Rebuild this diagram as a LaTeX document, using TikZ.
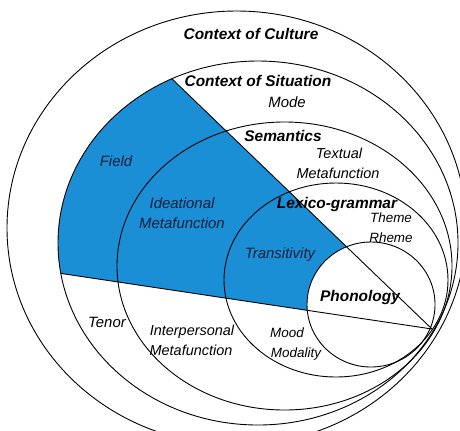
\documentclass[tikz,border=0pt]{standalone}
\usepackage{fontspec}
\setmainfont{Liberation Sans}
\usetikzlibrary{calc}
\definecolor{fieldblue}{RGB}{27,143,214}
\definecolor{inktext}{RGB}{18,30,58}
\begin{document}
\begin{tikzpicture}[x=1bp,y=-1bp,
  ring/.style={draw=black, line width=0.9bp},
  divider/.style={draw=black, line width=0.9bp},
  head/.style={font=\fontsize{15.5}{15.5}\selectfont\bfseries\itshape, inner sep=0pt, anchor=base},
  lab/.style={font=\fontsize{15}{15}\selectfont\itshape, inner sep=0pt, anchor=base},
  midlab/.style={font=\fontsize{14.5}{14.5}\selectfont\itshape, inner sep=0pt, anchor=base},
  small/.style={font=\fontsize{13.5}{13.5}\selectfont\itshape, inner sep=0pt, anchor=base},
  onblue/.style={text=inktext},
]
\useasboundingbox (0,0) rectangle (460,430);
\clip (0,0) rectangle (460,430);

% centres of the nested strata
\coordinate (culture)   at (236.7,228);
\coordinate (situation) at (258,243);
\coordinate (semantics) at (284.5,266);
\coordinate (lexico)    at (336,280);
\coordinate (phono)     at (371,304.5);
% meeting point of the two dividers and their outer ends
\coordinate (apex)  at (432,329);
\coordinate (upper) at (171.9,78.8);
\coordinate (lower) at (60.8,273.4);

% field sector, inside the context of situation
\begin{scope}
  \clip (situation) ellipse [x radius=200bp, y radius=182bp];
  \fill[fieldblue] (apex) -- ($(apex)!2!(upper)$) -- ($(apex)!2!(lower)$) -- cycle;
\end{scope}
\fill[white] (phono) ellipse [x radius=64bp, y radius=62.5bp];

% strata outlines
\draw[ring] (culture)   ellipse [x radius=229.7bp, y radius=217bp];
\draw[ring] (situation) ellipse [x radius=200bp, y radius=182bp];
\draw[ring] (semantics) ellipse [x radius=167.5bp, y radius=144bp];
\draw[ring] (lexico)    ellipse [x radius=112bp, y radius=97bp];
\draw[ring] (phono)     ellipse [x radius=64bp, y radius=62.5bp];

% dividers between field, tenor and mode
\draw[divider] (upper) -- (apex);
\draw[divider] (lower) -- (apex);

% labels
\node[head] (tculture)   at (251,39)  {Context of Culture};
\node[head] (tsituation) at (258,86)  {Context of Situation};
\node[lab]  (tmode)      at (287,107) {Mode};
\node[head] (tsemantics) at (283,141) {Semantics};
\node[midlab] (ttextual) at (339,158) {Textual};
\node[midlab] (ttextmf)  at (338,178) {Metafunction};
\node[lab,onblue] (tfield) at (116,166) {Field};
\node[lab,onblue] (tideational) at (182,208) {Ideational};
\node[lab,onblue] (tidemf) at (182,228) {Metafunction};
\node[head] (tlexico)    at (337,208) {Lexico-grammar};
\node[small] (ttheme)    at (391,222) {Theme};
\node[small] (trheme)    at (391,242) {Rheme};
\node[lab,onblue] (ttransitivity) at (280,258) {Transitivity};
\node[head] (tphono)     at (360,301) {Phonology};
\node[lab]  (ttenor)     at (107,327) {Tenor};
\node[midlab] (tinterp)  at (192,335) {Interpersonal};
\node[midlab] (tintmf)   at (191,355) {Metafunction};
\node[small] (tmood)     at (287,337) {Mood};
\node[small] (tmodality) at (296,357) {Modality};
\end{tikzpicture}
\end{document}
